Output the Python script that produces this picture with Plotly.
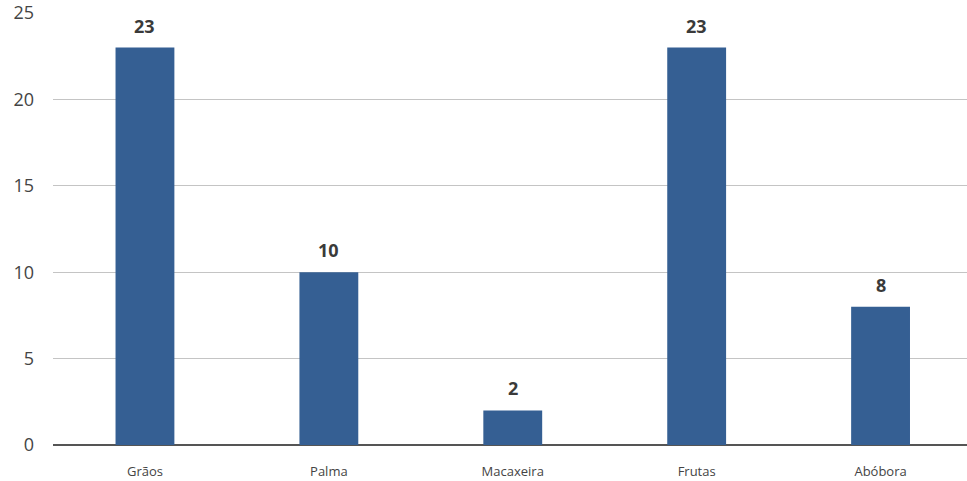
import plotly.graph_objects as go

categories = ["Grãos", "Palma", "Macaxeira", "Frutas", "Abóbora"]
values = [23, 10, 2, 23, 8]
y_ticks = [0, 5, 10, 15, 20, 25]

BAR_COLOR = "#355F93"
FONT = "Open Sans, sans-serif"

fig = go.Figure(
    go.Bar(
        x=categories,
        y=values,
        width=0.32,
        marker={"color": BAR_COLOR, "line": {"width": 0}},
        cliponaxis=False,
    )
)

for cat, val in zip(categories, values):
    fig.add_annotation(
        x=cat,
        y=val,
        text=f"<b>{val}</b>",
        showarrow=False,
        yanchor="bottom",
        yshift=8,
        font={"family": FONT, "size": 18, "color": "#3a3a3a"},
    )

fig.update_layout(
    width=967,
    height=481,
    margin={"l": 53, "r": 0, "t": 13, "b": 36},
    paper_bgcolor="white",
    plot_bgcolor="white",
    showlegend=False,
    font={"family": FONT, "color": "#444444"},
)
# the last category slot runs a little past the right edge, as in the original
fig.update_xaxes(
    range=[-0.5, 4.47],
    automargin=False,
    showgrid=False,
    showline=False,
    ticks="",
    ticklabelstandoff=17,
    tickfont={"size": 13, "color": "#444444"},
)
fig.update_yaxes(
    range=[0, 25],
    automargin=False,
    tickvals=y_ticks,
    showgrid=True,
    gridcolor="#c4c4c4",
    gridwidth=1,
    zeroline=True,
    zerolinecolor="#555555",
    zerolinewidth=2,
    showline=False,
    ticks="",
    ticklabelstandoff=18,
    ticklabeloverflow="allow",
    tickfont={"size": 18, "color": "#444444"},
)

# drop the browser's default body margin so the figure sits at the page corner
fig.write_html(
    "out.html",
    config={"displayModeBar": False},
    post_script="document.body.style.margin = '0';",
)
